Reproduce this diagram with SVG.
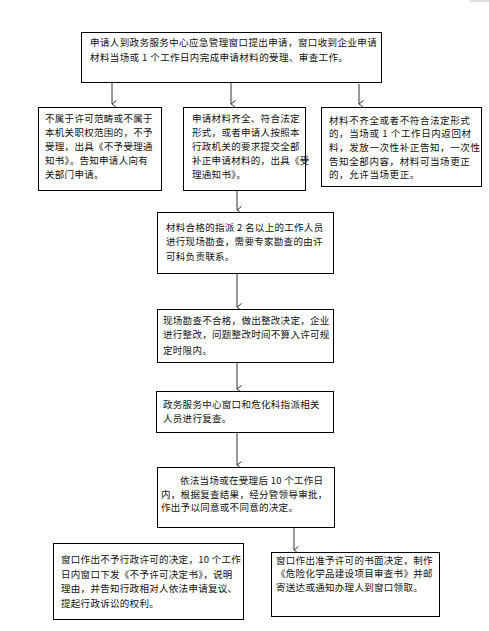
<svg xmlns="http://www.w3.org/2000/svg" width="489" height="631" viewBox="0 0 489 631">
<defs>
<style>
.box{fill:#fff;stroke:#000;stroke-width:1}
.t{font-family:"Noto Sans CJK SC","Liberation Sans",sans-serif;font-size:9.5px;fill:#111;letter-spacing:0.3px}
.w{letter-spacing:0.6px}
.m{letter-spacing:0.4px}
.c{stroke:#333;stroke-width:1;fill:none}
</style>
<marker id="ah" markerWidth="8" markerHeight="8" refX="4" refY="6" orient="auto" markerUnits="userSpaceOnUse" viewBox="0 0 8 8">
<polyline points="0.5,1.5 4,6 7.5,1.5" fill="none" stroke="#333" stroke-width="1"/>
</marker>
</defs>
<rect width="489" height="631" fill="#fff"/>
<line x1="470" y1="1" x2="489" y2="1" stroke="#bbb" stroke-width="1"/>
<g id="connectors">
<line class="c" x1="112" y1="83" x2="112" y2="104" marker-end="url(#ah)"/>
<line class="c" x1="231" y1="83" x2="231" y2="104" marker-end="url(#ah)"/>
<line class="c" x1="359" y1="84" x2="359" y2="104" marker-end="url(#ah)"/>
<line class="c" x1="237" y1="191" x2="237" y2="210" marker-end="url(#ah)"/>
<line class="c" x1="237" y1="274" x2="237" y2="307" marker-end="url(#ah)"/>
<line class="c" x1="237" y1="363" x2="237" y2="389" marker-end="url(#ah)"/>
<line class="c" x1="237" y1="433" x2="237" y2="465" marker-end="url(#ah)"/>
<line class="c" x1="294" y1="528" x2="294" y2="550" marker-end="url(#ah)"/>
</g>
<g id="n1">
<rect class="box" x="81.5" y="32.5" width="300" height="50"/>
<text class="t m" x="90" y="46">申请人到政务服务中心应急管理窗口提出申请，窗口收到企业申请</text>
<text class="t m" x="90" y="61">材料当场或 1 个工作日内完成申请材料的受理、审查工作。</text>
</g>
<g id="n2">
<rect class="box" x="38.5" y="107.5" width="123" height="83"/>
<text class="t" x="45" y="122">不属于许可范畴或不属于</text>
<text class="t" x="45" y="136">本机关职权范围的，不予</text>
<text class="t" x="45" y="150">受理，出具《不予受理通</text>
<text class="t" x="45" y="164">知书》。告知申请人向有</text>
<text class="t" x="45" y="178">关部门申请。</text>
</g>
<g id="n3">
<rect class="box" x="183.5" y="107.5" width="122" height="83"/>
<text class="t" x="192" y="122">申请材料齐全、符合法定</text>
<text class="t" x="192" y="136">形式，或者申请人按照本</text>
<text class="t" x="192" y="150">行政机关的要求提交全部</text>
<text class="t" x="192" y="164">补正申请材料的，出具《受</text>
<text class="t" x="192" y="178">理通知书》。</text>
</g>
<g id="n4">
<rect class="box" x="321.5" y="107.5" width="160" height="79"/>
<text class="t w" x="329" y="124">材料不齐全或者不符合法定形式</text>
<text class="t w" x="329" y="137">的，当场或 1 个工作日内返回材</text>
<text class="t w" x="329" y="151">料，发放一次性补正告知，一次性</text>
<text class="t w" x="329" y="165">告知全部内容，材料可当场更正</text>
<text class="t w" x="329" y="178">的，允许当场更正。</text>
</g>
<g id="n5">
<rect class="box" x="157.5" y="212.5" width="176" height="61"/>
<text class="t" x="166" y="231">材料合格的指派 2 名以上的工作人员</text>
<text class="t" x="166" y="245">进行现场勘查，需要专家勘查的由许</text>
<text class="t" x="166" y="260">可科负责联系。</text>
</g>
<g id="n6">
<rect class="box" x="157.5" y="309.5" width="176" height="53"/>
<text class="t" x="163" y="324">现场勘查不合格，做出整改决定，企业</text>
<text class="t" x="163" y="338">进行整改，问题整改时间不算入许可规</text>
<text class="t" x="163" y="354">定时限内。</text>
</g>
<g id="n7">
<rect class="box" x="156.5" y="391.5" width="177" height="41"/>
<text class="t" x="163" y="408">政务服务中心窗口和危化科指派相关</text>
<text class="t" x="163" y="422">人员进行复查。</text>
</g>
<g id="n8">
<rect class="box" x="157.5" y="467.5" width="177" height="60"/>
<text class="t" x="180" y="484">依法当场或在受理后 10 个工作日</text>
<text class="t" x="161" y="498">内，根据复查结果，经分管领导审批，</text>
<text class="t" x="161" y="511">作出予以同意或不同意的决定。</text>
</g>
<g id="n9">
<rect class="box" x="53.5" y="543.5" width="190" height="76"/>
<text class="t" x="61" y="563">窗口作出不予行政许可的决定，10 个工作</text>
<text class="t" x="61" y="578">日内窗口下发《不予许可决定书》，说明</text>
<text class="t" x="61" y="592">理由，并告知行政相对人依法申请复议、</text>
<text class="t" x="61" y="607">提起行政诉讼的权利。</text>
</g>
<g id="n10">
<rect class="box" x="271.5" y="552.5" width="168" height="64"/>
<text class="t" x="276" y="564">窗口作出准予许可的书面决定，制作</text>
<text class="t" x="276" y="577">《危险化学品建设项目审查书》并邮</text>
<text class="t" x="276" y="591">寄送达或通知办理人到窗口领取。</text>
</g>
</svg>
